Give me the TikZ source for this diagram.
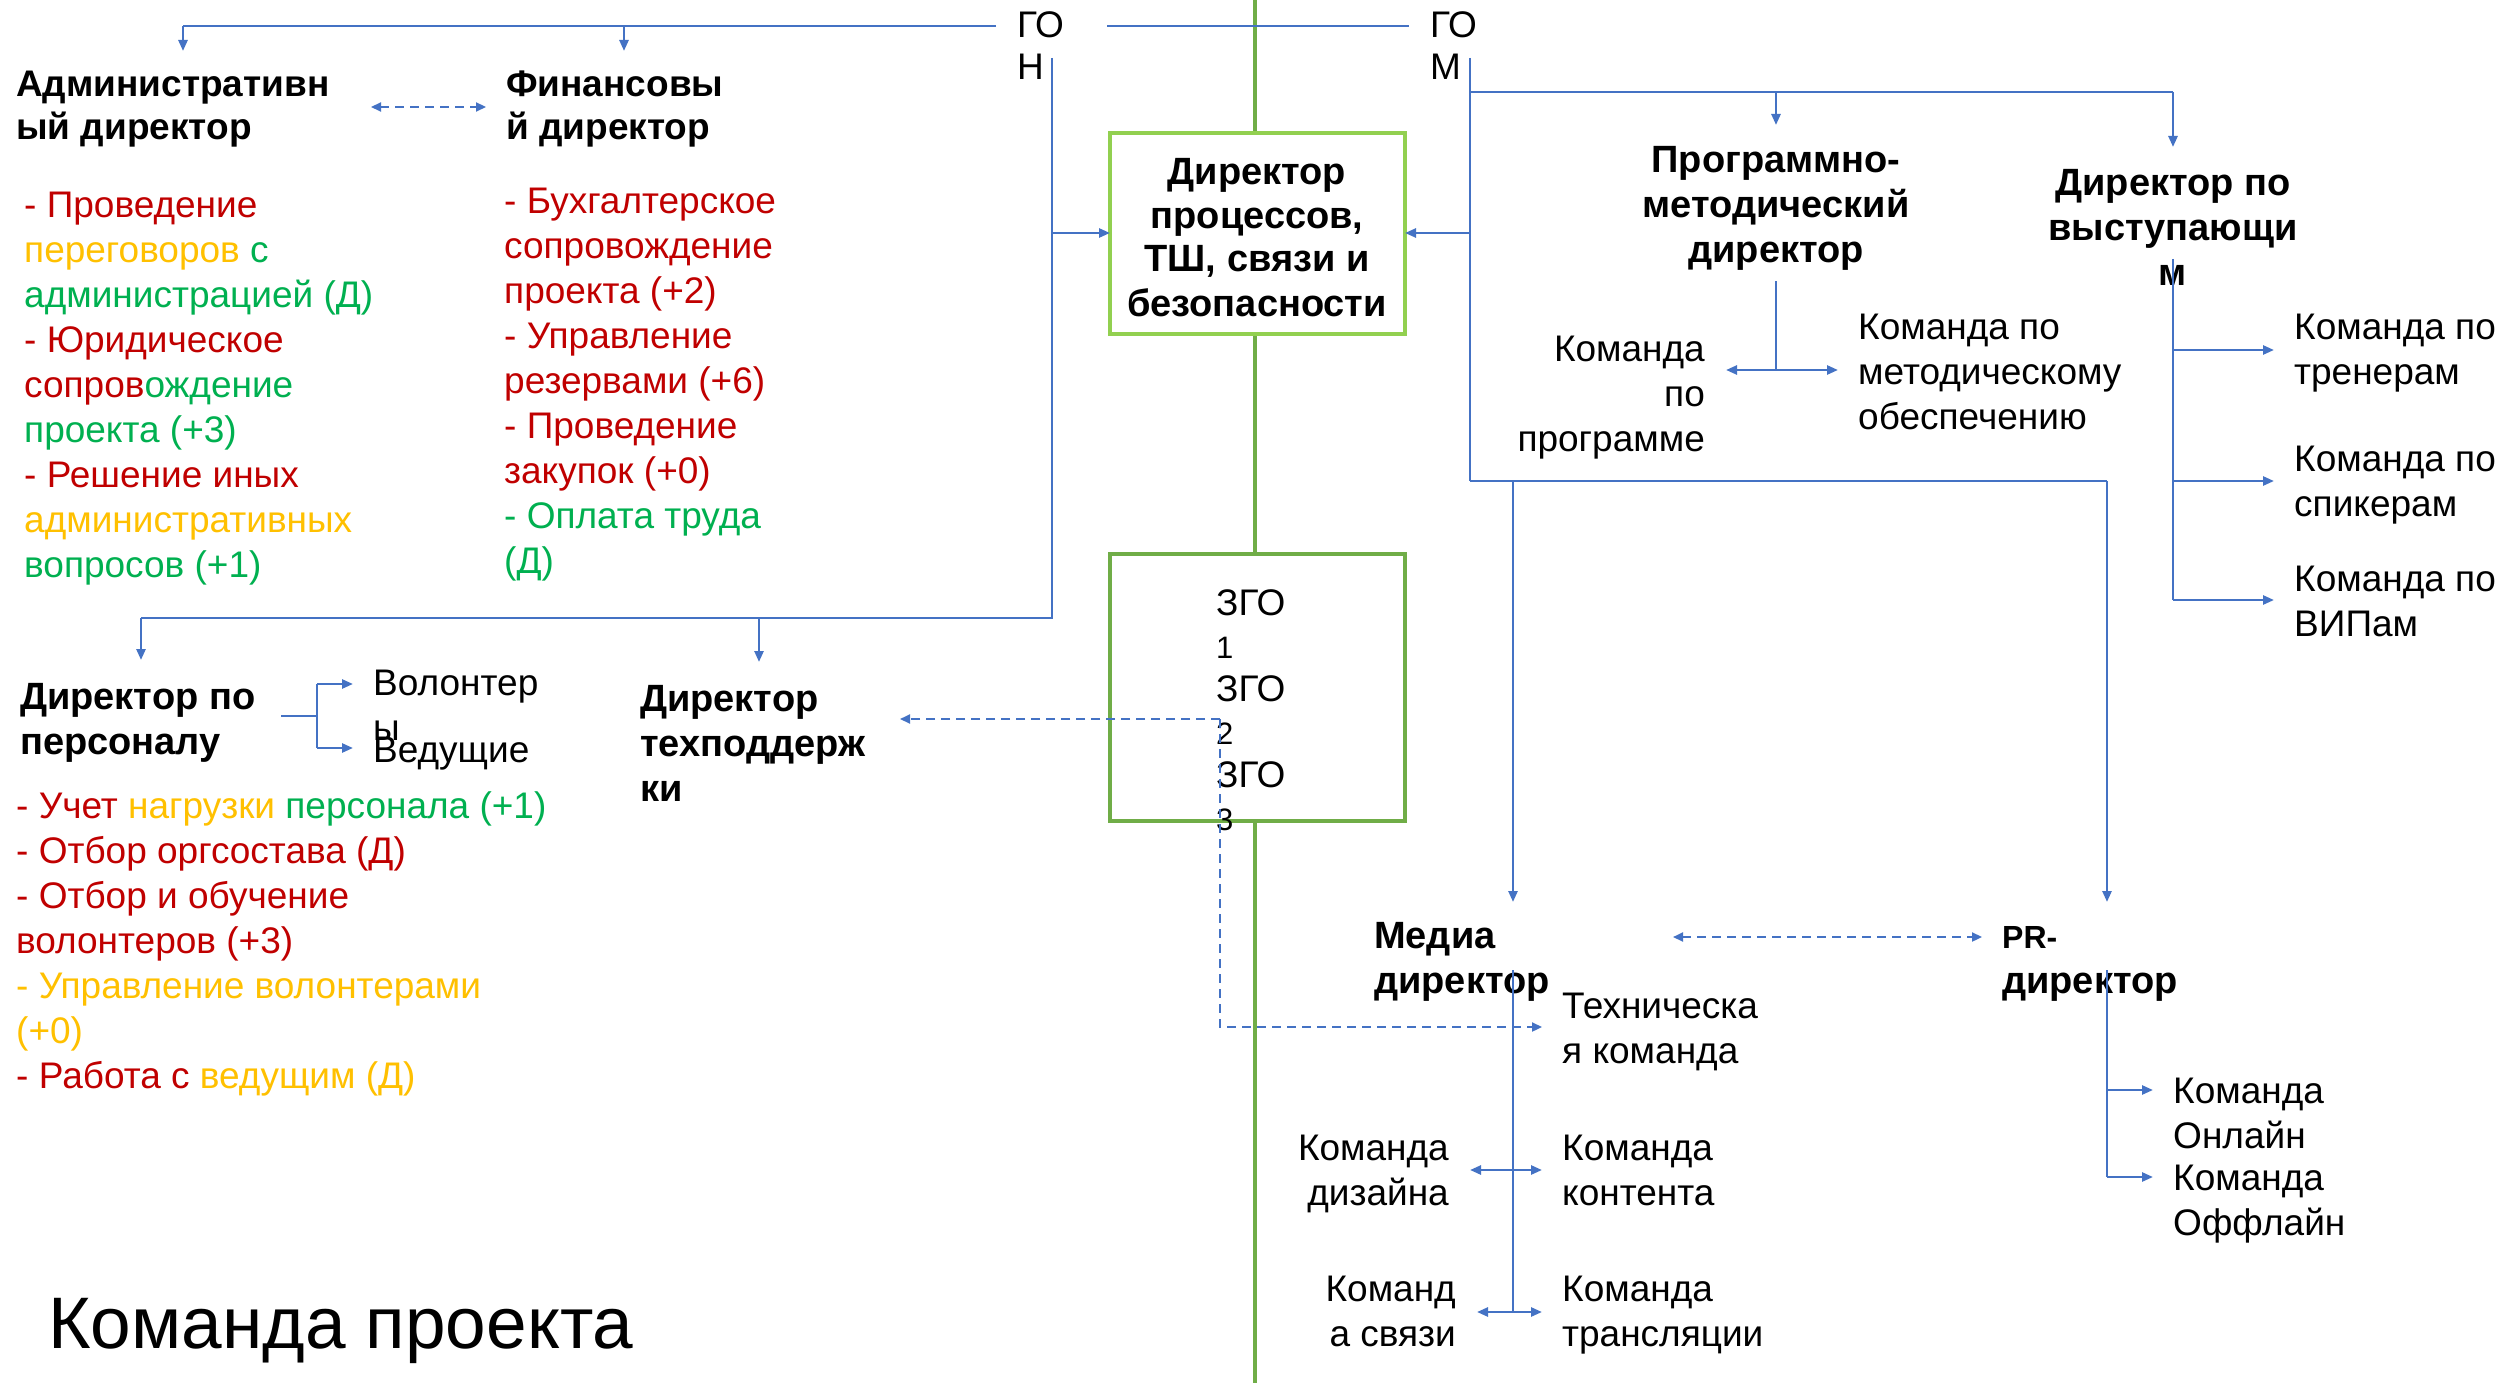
\documentclass[tikz,border=0pt]{standalone}
\usepackage{fontspec}
\setmainfont{Liberation Sans}
\usetikzlibrary{arrows.meta}
\definecolor{cred}{HTML}{C00000}
\definecolor{cyel}{HTML}{FFC000}
\definecolor{cgrn}{HTML}{00B050}
\definecolor{cblue}{HTML}{4472C4}
\definecolor{gline}{HTML}{70AD47}
\definecolor{gbox}{HTML}{92D050}
\begin{document}
\begin{tikzpicture}[x=1pt,y=-1pt,
  txt/.style={inner sep=0pt, font=\fontsize{37}{45}\selectfont, align=left},
  txtr/.style={inner sep=0pt, font=\fontsize{37}{45}\selectfont, align=right},
  ttl/.style={inner sep=0pt, font=\fontsize{38}{45}\bfseries\selectfont, align=left},
  ttlc/.style={inner sep=0pt, font=\fontsize{38}{44}\bfseries\selectfont, align=center},
  ttls/.style={inner sep=0pt, font=\fontsize{37}{43}\bfseries\selectfont, align=left},
  conn/.style={draw=cblue, line width=2.5pt},
  arr/.style={conn, -{Triangle[length=11pt,width=9pt]}},
  darr/.style={conn, {Triangle[length=11pt,width=9pt]}-{Triangle[length=11pt,width=9pt]}},
  dash2/.style={draw=cblue, line width=2.2pt, dash pattern=on 9pt off 6pt},
  boxa/.style={draw=gbox, line width=4pt, fill=white},
  boxb/.style={draw=gline, line width=4pt, fill=white}]
\useasboundingbox (0,0) rectangle (2509,1383);
\fill[white] (0,0) rectangle (2509,1383);

% green backbone
\draw[gline, line width=4.5pt] (1255,0) -- (1255,1383);

% boxes
\path[boxa] (1110,133) rectangle (1405,334);
\coordinate (b1w) at (1110,233);
\coordinate (b1e) at (1405,233);
\node[ttlc, anchor=base] (box1) at (1257,316) {Директор\\процессов,\\ТШ, связи и\\безопасности};
\path[boxb] (1110,554) rectangle (1405,821);

% top labels (anchored at last baseline)
\node[txt, anchor=base west, font=\fontsize{37}{42}\selectfont] (goN) at (1017,80) {ГО\\Н};
\node[txt, anchor=base west, font=\fontsize{37}{42}\selectfont] (goM) at (1430,80) {ГО\\М};

% left titles
\node[ttls, anchor=base west] (adm) at (16,140) {Административн\\ый директор};
\node[ttls, anchor=base west] (fin) at (506,140) {Финансовы\\й директор};
\node[ttl, anchor=base west] (pers) at (20,754) {Директор по\\персоналу};
\node[ttl, anchor=base west] (tech) at (640,801) {Директор\\техподдерж\\ки};

% left lists
\node[txt, anchor=base west] (admlist) at (24,577) {%
\textcolor{cred}{- Проведение}\\
\textcolor{cyel}{переговоров }\textcolor{cgrn}{с}\\
\textcolor{cgrn}{администрацией (Д)}\\
\textcolor{cred}{- Юридическое}\\
\textcolor{cred}{сопров}\textcolor{cgrn}{ождение}\\
\textcolor{cgrn}{проекта (+3)}\\
\textcolor{cred}{- Решение иных}\\
\textcolor{cyel}{административных}\\
\textcolor{cgrn}{вопросов (+1)}};
\node[txt, anchor=base west] (finlist) at (504,573) {%
\textcolor{cred}{- Бухгалтерское}\\
\textcolor{cred}{сопровождение}\\
\textcolor{cred}{проекта (+2)}\\
\textcolor{cred}{- Управление}\\
\textcolor{cred}{резервами (+6)}\\
\textcolor{cred}{- Проведение}\\
\textcolor{cred}{закупок (+0)}\\
\textcolor{cgrn}{- Оплата труда}\\
\textcolor{cgrn}{(Д)}};
\node[txt, anchor=base west] (perslist) at (16,1088) {%
\textcolor{cred}{- Учет }\textcolor{cyel}{нагрузки }\textcolor{cgrn}{персонала (+1)}\\
\textcolor{cred}{- Отбор оргсостава (Д)}\\
\textcolor{cred}{- Отбор и обучение}\\
\textcolor{cred}{волонтеров (+3)}\\
\textcolor{cyel}{- Управление волонтерами}\\
\textcolor{cyel}{(+0)}\\
\textcolor{cred}{- Работа с }\textcolor{cyel}{ведущим (Д)}};

\node[txt, anchor=base west] (vol) at (373,740) {Волонтер\\ы};
\node[txt, anchor=base west] (ved) at (373,762) {Ведущие};

% ZGO box text
\node[txt, anchor=base west, font=\fontsize{37}{43}\selectfont] (zgo) at (1216,830) {%
ЗГО\\{\fontsize{31}{43}\selectfont 1}\\ЗГО\\{\fontsize{31}{43}\selectfont 2}\\ЗГО\\{\fontsize{31}{43}\selectfont 3}};

% right titles
\node[ttlc, anchor=base, font=\fontsize{38}{45}\bfseries\selectfont] (prog) at (1776,262) {Программно-\\методический\\директор};
\node[ttlc, anchor=base, font=\fontsize{38}{45}\bfseries\selectfont] (perf) at (2173,285) {Директор по\\выступающи\\м};
\node[txtr, anchor=base east] (tprog) at (1705,451) {Команда\\по\\программе};
\node[txt, anchor=base west] (tmet) at (1858,429) {Команда по\\методическому\\обеспечению};
\node[txt, anchor=base west] (ttren) at (2294,384) {Команда по\\тренерам};
\node[txt, anchor=base west] (tspk) at (2294,516) {Команда по\\спикерам};
\node[txt, anchor=base west] (tvip) at (2294,636) {Команда по\\ВИПам};

\node[ttl, anchor=base west] (media) at (1374,993) {Медиа\\директор};
\node[ttl, anchor=base west] (pr) at (2002,993) {{\fontsize{32}{45}\selectfont PR-}\\директор};
\node[txt, anchor=base west] (ttech) at (1562,1063) {Техническа\\я команда};
\node[txt, anchor=base west] (tcont) at (1562,1205) {Команда\\контента};
\node[txt, anchor=base west] (ttrans) at (1562,1346) {Команда\\трансляции};
\node[txtr, anchor=base east] (tdes) at (1449,1205) {Команда\\дизайна};
\node[txtr, anchor=base east] (tsv) at (1456,1346) {Команд\\а связи};
\node[txt, anchor=base west] (tonl) at (2173,1148) {Команда\\Онлайн};
\node[txt, anchor=base west] (toff) at (2173,1235) {Команда\\Оффлайн};

\node[inner sep=0pt, anchor=base west, font=\fontsize{73}{80}\selectfont] (title) at (48,1348) {Команда проекта};

% coordinates
\coordinate (nTop) at (1052,58);
\coordinate (nBot) at (1052,618);
\coordinate (nMid) at (1052,233);
\coordinate (mTop) at (1470,58);
\coordinate (mJ) at (1470,92);
\coordinate (mMid) at (1470,233);
\coordinate (mBot) at (1470,481);

% top-left connectors
\draw[conn] (996,26) -- (183,26);
\draw[arr] (183,26) -- (183,51);
\draw[arr] (624,26) -- (624,51);
\draw[conn] (1107,26) -- (1409,26);
\draw[conn] (nTop) -- (nBot) -- (141,618);
\draw[arr] (141,618) -- (141,660);
\draw[arr] (759,618) -- (759,662);
\draw[arr] (nMid) -- (b1w);
\draw[dash2, {Triangle[length=10pt,width=9pt]}-{Triangle[length=10pt,width=9pt]}] (371,107) -- (486,107);

% personnel branch
\draw[conn] (281,716) -- (317,716);
\draw[conn] (317,684) -- (317,748);
\draw[arr] (317,684) -- (353,684);
\draw[arr] (317,748) -- (353,748);

% GO-M connectors
\draw[conn] (mTop) -- (mBot);
\draw[arr] (mMid) -- (b1e);
\draw[conn] (mJ) -- (2173,92);
\draw[arr] (2173,92) -- (2173,147);
\draw[arr] (1776,92) -- (1776,125);
\draw[conn] (mBot) -- (2107,481);
\draw[arr] (2107,481) -- (2107,902);
\draw[arr] (1513,481) -- (1513,902);

% program-method
\draw[conn] (1776,281) -- (1776,370);
\draw[arr] (1776,370) -- (1726,370);
\draw[arr] (1776,370) -- (1838,370);

% performers
\draw[conn] (2173,259) -- (2173,600);
\draw[arr] (2173,350) -- (2274,350);
\draw[arr] (2173,481) -- (2274,481);
\draw[arr] (2173,600) -- (2274,600);

% media
\draw[dash2, {Triangle[length=10pt,width=9pt]}-{Triangle[length=10pt,width=9pt]}] (1673,937) -- (1982,937);
\draw[conn] (1513,970) -- (1513,1312);
\draw[darr] (1470,1170) -- (1542,1170);
\draw[darr] (1477,1312) -- (1542,1312);

% PR
\draw[conn] (2107,970) -- (2107,1177);
\draw[arr] (2107,1090) -- (2153,1090);
\draw[arr] (2107,1177) -- (2153,1177);

% ZGO dashed
\draw[dash2, -{Triangle[length=10pt,width=9pt]}] (1220,719) -- (900,719);
\draw[dash2, -{Triangle[length=10pt,width=9pt]}] (1220,719) -- (1220,1027) -- (1542,1027);
\end{tikzpicture}
\end{document}
